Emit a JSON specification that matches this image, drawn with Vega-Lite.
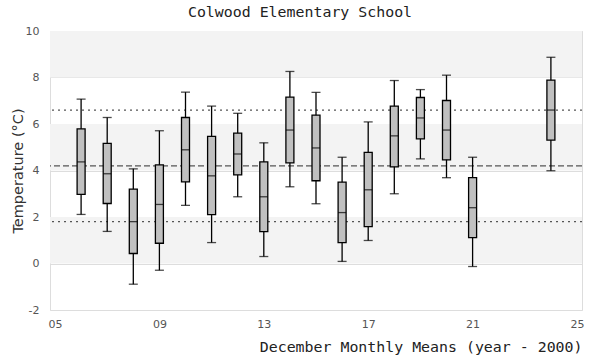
{
  "$schema": "https://vega.github.io/schema/vega-lite/v6.json",
  "width": 532,
  "height": 279,
  "autosize": "none",
  "padding": {"left": 50, "top": 31, "right": 18, "bottom": 50},
  "background": "white",
  "title": {
    "text": "Colwood Elementary School",
    "font": "DejaVu Sans Mono",
    "fontSize": 14.9,
    "fontWeight": "normal",
    "color": "#222222",
    "anchor": "middle",
    "dx": -16,
    "offset": 5
  },
  "config": {
    "view": {"stroke": "#dddddd", "strokeWidth": 1},
    "axis": {
      "labelFont": "DejaVu Sans",
      "labelFontSize": 11,
      "labelColor": "#555555",
      "domain": false,
      "ticks": false,
      "gridColor": "#dddddd",
      "gridWidth": 1
    },
    "axisX": {"grid": false},
    "axisY": {"grid": true}
  },
  "datasets": {
    "boxes": [
      {"year": 6, "min": 2.11, "q1": 2.97, "median": 4.37, "q3": 5.79, "max": 7.07},
      {"year": 7, "min": 1.38, "q1": 2.58, "median": 3.86, "q3": 5.17, "max": 6.28},
      {"year": 8, "min": -0.89, "q1": 0.43, "median": 1.80, "q3": 3.20, "max": 4.07},
      {"year": 9, "min": -0.29, "q1": 0.87, "median": 2.54, "q3": 4.24, "max": 5.71},
      {"year": 10, "min": 2.50, "q1": 3.51, "median": 4.89, "q3": 6.28, "max": 7.37},
      {"year": 11, "min": 0.90, "q1": 2.10, "median": 3.77, "q3": 5.47, "max": 6.77},
      {"year": 12, "min": 2.87, "q1": 3.81, "median": 4.71, "q3": 5.61, "max": 6.46},
      {"year": 13, "min": 0.30, "q1": 1.37, "median": 2.87, "q3": 4.37, "max": 5.19},
      {"year": 14, "min": 3.30, "q1": 4.33, "median": 5.74, "q3": 7.16, "max": 8.26},
      {"year": 15, "min": 2.57, "q1": 3.56, "median": 4.97, "q3": 6.38, "max": 7.36},
      {"year": 16, "min": 0.09, "q1": 0.90, "median": 2.19, "q3": 3.50, "max": 4.57},
      {"year": 17, "min": 0.99, "q1": 1.59, "median": 3.17, "q3": 4.78, "max": 6.09},
      {"year": 18, "min": 3.00, "q1": 4.16, "median": 5.49, "q3": 6.77, "max": 7.87},
      {"year": 19, "min": 4.50, "q1": 5.36, "median": 6.26, "q3": 7.14, "max": 7.48},
      {"year": 20, "min": 3.69, "q1": 4.46, "median": 5.74, "q3": 7.01, "max": 8.10},
      {"year": 21, "min": -0.13, "q1": 1.11, "median": 2.40, "q3": 3.69, "max": 4.57},
      {"year": 24, "min": 3.99, "q1": 5.31, "median": 6.60, "q3": 7.89, "max": 8.87}
    ],
    "bands": [
      {"lo": 8, "hi": 10},
      {"lo": 4, "hi": 6},
      {"lo": 0, "hi": 2}
    ],
    "dotted": [{"v": 6.6}, {"v": 1.8}],
    "dashed": [{"v": 4.2}]
  },
  "layer": [
    {
      "data": {"name": "bands"},
      "mark": {"type": "rect", "fill": "#f3f3f3"},
      "encoding": {
        "y": {
          "field": "lo", "type": "quantitative",
          "scale": {"domain": [-2, 10], "nice": false, "zero": false},
          "title": "Temperature (\u00b0C)",
          "axis": {
            "values": [-2, 0, 2, 4, 6, 8, 10],
            "grid": true,
            "labelPadding": 11,
            "labelExpr": "replace(datum.label, '\u2212', '-')",
            "titleFont": "DejaVu Sans",
            "titleFontSize": 14.5,
            "titleFontWeight": "normal",
            "titleColor": "#333333",
            "titlePadding": 0
          }
        },
        "y2": {"field": "hi"}
      }
    },
    {
      "data": {"name": "dotted"},
      "mark": {"type": "rule", "color": "#555555", "strokeWidth": 1.3, "strokeDash": [2, 4]},
      "encoding": {
        "y": {"field": "v", "type": "quantitative", "title": "Temperature (\u00b0C)"}
      }
    },
    {
      "data": {"name": "dashed"},
      "mark": {"type": "rule", "color": "#555555", "strokeWidth": 1.3, "strokeDash": [6, 3]},
      "encoding": {
        "y": {"field": "v", "type": "quantitative", "title": "Temperature (\u00b0C)"}
      }
    },
    {
      "data": {"name": "boxes"},
      "layer": [
        {
          "mark": {"type": "rule", "color": "black", "strokeWidth": 1.3},
          "encoding": {
            "x": {
              "field": "year", "type": "quantitative",
              "scale": {"domain": [5, 25], "nice": false, "zero": false},
              "title": "December Monthly Means (year - 2000)",
              "axis": {
                "values": [5, 9, 13, 17, 21, 25],
                "format": "02d",
                "grid": false,
                "labelPadding": 8,
                "titleFont": "DejaVu Sans Mono",
                "titleFontSize": 14.9,
                "titleFontWeight": "normal",
                "titleColor": "#222222",
                "titleAnchor": "end",
                "titlePadding": 10
              }
            },
            "y": {"field": "min", "type": "quantitative", "title": "Temperature (\u00b0C)"},
            "y2": {"field": "max"}
          }
        },
        {
          "mark": {"type": "tick", "orient": "horizontal", "color": "black", "size": 9, "thickness": 1.3},
          "encoding": {
            "x": {"field": "year", "type": "quantitative", "title": "December Monthly Means (year - 2000)"},
            "y": {"field": "min", "type": "quantitative", "title": "Temperature (\u00b0C)"}
          }
        },
        {
          "mark": {"type": "tick", "orient": "horizontal", "color": "black", "size": 9, "thickness": 1.3},
          "encoding": {
            "x": {"field": "year", "type": "quantitative", "title": "December Monthly Means (year - 2000)"},
            "y": {"field": "max", "type": "quantitative", "title": "Temperature (\u00b0C)"}
          }
        },
        {
          "mark": {"type": "bar", "width": 8, "fill": "#c0c0c0", "stroke": "black", "strokeWidth": 1.3},
          "encoding": {
            "x": {"field": "year", "type": "quantitative", "title": "December Monthly Means (year - 2000)"},
            "y": {"field": "q1", "type": "quantitative", "title": "Temperature (\u00b0C)"},
            "y2": {"field": "q3"}
          }
        },
        {
          "mark": {"type": "tick", "orient": "horizontal", "color": "black", "size": 8, "thickness": 1.3},
          "encoding": {
            "x": {"field": "year", "type": "quantitative", "title": "December Monthly Means (year - 2000)"},
            "y": {"field": "median", "type": "quantitative", "title": "Temperature (\u00b0C)"}
          }
        }
      ]
    }
  ]
}
